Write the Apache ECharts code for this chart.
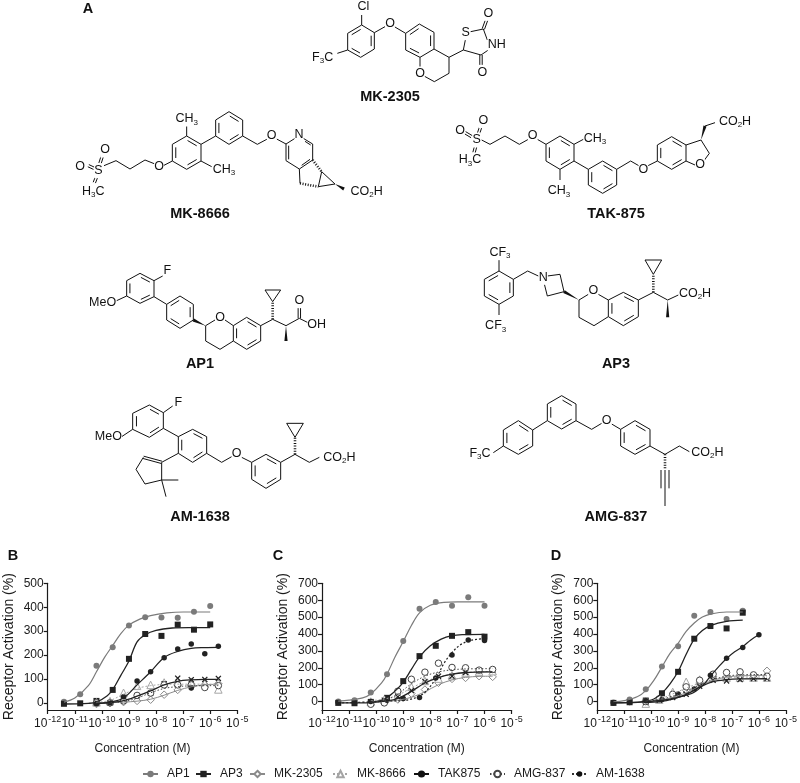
<!DOCTYPE html>
<html>
<head>
<meta charset="utf-8">
<style>html,body{margin:0;padding:0;background:#fff}#c{width:800px;height:783px}</style>
<script src="https://cdn.jsdelivr.net/npm/echarts@6/dist/echarts.min.js"></script>
</head>
<body>
<div id="c"></div>
<script>
// ---------- doses (log10 M) ----------
const DOSE_4 = [-11.4,-10.8,-10.2,-9.6,-9,-8.4,-7.8,-7.2,-6.6,-6];
const DOSE_H = [-10.2,-9.7,-9.2,-8.7,-8.2,-7.7,-7.2,-6.7,-6.2,-5.7];
const X_TICKS = [-12,-11,-10,-9,-8,-7,-6,-5];
const B_Y_TICKS = [0,100,200,300,400,500];
const CD_Y_TICKS = [0,100,200,300,400,500,600,700];
const COMPOUNDS = ['AP1','AP3','MK-2305','MK-8666','TAK875','AMG-837','AM-1638'];

// ---------- panel B ----------
const B_AP1 = [5,36,155,232,323,358,357,356,381,405];
const B_AP1_fit = [[-11.4,3],[-11,20],[-10.5,72],[-10.2,130],[-9.9,190],[-9.6,240],[-9.3,290],[-9,325],[-8.6,350],[-8.2,365],[-7.6,376],[-7,380],[-6,380]];
const B_AP3 = [-4,-2,8,54,184,288,280,327,306,328];
const B_AP3_fit = [[-11.4,-5],[-10.5,-2],[-10.2,3],[-9.8,30],[-9.6,55],[-9.3,115],[-9,175],[-8.7,255],[-8.4,285],[-8,303],[-7.4,313],[-6.8,315],[-6,315]];
const B_MK2305 = [-5,-1,3,8,13,34,54,68,76,80];
const B_MK2305_fit = [[-10.2,-1],[-9.2,3],[-8.7,7],[-8.2,15],[-7.7,32],[-7.2,52],[-6.7,67],[-6.2,75],[-5.7,78]];
const B_MK8666 = [2,7,42,71,75,85,88,88,81,56];
const B_MK8666_fit = [[-10.2,2],[-9.7,10],[-9.2,36],[-8.7,60],[-8.2,72],[-7.7,77],[-7.2,78],[-5.7,78]];
const B_TAK = [-2,0,12,30,40,80,103,97,98,102];
const B_TAK_fit = [[-10.2,-2],[-9.7,1],[-9.2,9],[-8.7,28],[-8.2,50],[-7.7,75],[-7.2,90],[-6.7,96],[-6.2,98],[-5.7,98]];
const B_AMG = [0,0,8,31,41,75,75,75,64,72];
const B_AMG_fit = [[-10.2,-1],[-9.7,1],[-9.2,5],[-8.7,20],[-8.2,42],[-7.7,60],[-7.2,68],[-6.7,71],[-5.7,72]];
const B_AM = [-3,0,25,91,130,189,225,246,205,237];
const B_AM_fit = [[-10.2,-3],[-9.7,3],[-9.2,20],[-8.7,75],[-8.2,130],[-7.7,190],[-7.2,215],[-6.7,228],[-6.2,231],[-5.7,232]];
const B_AM_extra = [[-6.7,62]];

// ---------- panel C ----------
const C_AP1 = [0,8,53,162,358,550,589,567,617,567];
const C_AP1_fit = [[-11.4,3],[-11,8],[-10.5,22],[-10.2,45],[-9.8,110],[-9.6,162],[-9.3,265],[-9,355],[-8.7,450],[-8.4,525],[-8,570],[-7.5,587],[-7,590],[-6,590]];
const C_AP3 = [-8,-10,-2,22,121,269,330,389,411,384];
const C_AP3_fit = [[-11.4,-8],[-10.5,-8],[-10.2,-5],[-9.8,8],[-9.5,35],[-9.2,78],[-9,115],[-8.7,190],[-8.4,265],[-8,330],[-7.6,370],[-7.2,390],[-6.8,396],[-6,398]];
const C_MK2305 = [-3,0,12,47,71,111,134,140,150,146];
const C_MK2305_fit = [[-10.2,-3],[-9.7,0],[-9.2,8],[-8.7,25],[-8.2,58],[-7.7,100],[-7.2,128],[-6.7,143],[-6.2,149],[-5.7,150]];
const C_MK8666 = [0,12,43,87,122,136,156,172,178,180];
const C_MK8666_fit = [[-10.2,5],[-9.7,15],[-9.2,38],[-8.7,80],[-8.2,118],[-7.7,145],[-7.2,162],[-6.7,172],[-6.2,177],[-5.7,178]];
const C_TAK = [-4,8,28,65,118,150,150,172,182,186];
const C_TAK_fit = [[-10.2,-6],[-9.7,2],[-9.2,18],[-8.7,60],[-8.2,110],[-7.7,142],[-7.2,162],[-6.7,172],[-6.2,175],[-5.7,176]];
const C_AMG = [-16,-8,61,132,174,227,202,200,186,190];
const C_AMG_fit = [[-10.2,-5],[-9.7,5],[-9.2,45],[-8.7,105],[-8.2,150],[-7.7,175],[-7.2,188],[-6.7,193],[-5.7,195]];
const C_AM = [-5,-10,0,8,18,24,140,275,364,362];
const C_AM_fit = [[-11.4,-8],[-10.2,-2],[-9.6,3],[-9,6],[-8.5,25],[-8.2,55],[-7.8,135],[-7.5,225],[-7.2,290],[-6.9,335],[-6.6,358],[-6.3,368],[-6,372]];

// ---------- panel D ----------
const D_AP1 = [-6,12,73,208,328,508,530,488,538];
const D_AP1_fit = [[-11.4,-2],[-11,5],[-10.5,30],[-10.2,65],[-9.9,125],[-9.6,205],[-9.3,285],[-9,345],[-8.7,415],[-8.4,465],[-8.1,500],[-7.8,518],[-7.2,530],[-6.6,530]];
const D_AP3 = [-8,-4,6,49,176,372,447,433,526];
const D_AP3_fit = [[-11.4,-8],[-10.5,-5],[-10.2,2],[-9.9,15],[-9.6,50],[-9.3,105],[-9,178],[-8.7,280],[-8.4,370],[-8.1,420],[-7.8,450],[-7.2,475],[-6.6,482]];
const D_MK2305 = [4,12,38,67,103,146,146,146,142,182];
const D_MK2305_fit = [[-10.2,0],[-9.7,8],[-9.2,25],[-8.7,52],[-8.2,90],[-7.7,125],[-7.2,145],[-6.7,152],[-5.7,155]];
const D_MK8666 = [-12,12,57,117,130,156,142,142,142,142];
const D_MK8666_fit = [[-10.2,0],[-9.7,15],[-9.2,45],[-8.7,80],[-8.2,108],[-7.7,128],[-7.2,140],[-6.7,145],[-5.7,145]];
const D_TAK = [-6,8,24,43,91,126,122,130,136,136];
const D_TAK_fit = [[-10.2,-6],[-9.7,0],[-9.2,15],[-8.7,42],[-8.2,85],[-7.7,118],[-7.2,130],[-6.7,134],[-5.7,135]];
const D_AMG = [0,16,43,87,126,162,172,176,158,150];
const D_AMG_fit = [[-10.2,2],[-9.7,12],[-9.2,32],[-8.7,62],[-8.2,98],[-7.7,130],[-7.2,150],[-6.7,158],[-5.7,160]];
const D_AM = [-7,-6,5,12,45,75,156,257,320,395];
const D_AM_fit = [[-11.4,-8],[-10.2,-2],[-9.6,8],[-9,25],[-8.4,55],[-8,110],[-7.8,150],[-7.5,205],[-7.2,255],[-6.9,295],[-6.6,325],[-6.3,365],[-6,395]];

// ---------- chemical structures (drawing units: 1/3 px from an origin) ----------
const MOL_MK2305 = {ox:400,oy:0,
 rings:[[[-157,100,-115,75,-77,98,-77,147,-118,172,-157,150],[0,2,4]],[[17,100,58,72,102,97,102,147,60,172,17,150],[0,2,4]]],
 bonds:[[-115,75,-115,45],[-77,98,-45,80],[-17,80,17,100],[-188,160,-157,150],[60,172,60,205],[72,228,103,245],[103,245,147,220],[147,220,147,172],[147,172,102,147],[147,172,190,150],[190,150,197,115],[212,95,250,87],[250,87,262,120],[265,150,243,165],[243,165,190,150]],
 dbl:[[250,87,262,54],[243,165,243,200]],
 text:[[-110,20,'Cl'],[-30,72,'O'],[-232,172,'F{s|3}C'],[60,222,'O'],[197,98,'S'],[290,135,'NH'],[265,40,'O'],[247,217,'O']]};
const MOL_MK8666 = {ox:50,oy:0,
 rings:[[[367,433,410,408,453,433,453,483,410,508,367,483],[1,3,5]],[[497,408,497,360,537,335,578,360,578,408,537,433],[0,2,4]]],
 bonds:[[410,408,410,378],[453,483,485,500],[367,483,340,497],[315,492,285,480],[285,480,240,507],[240,507,198,482],[198,482,162,497],[453,433,497,408],[578,408,622,433],[622,433,652,417],[680,417,708,432],[708,432,735,415],[760,415,788,432],[788,432,788,480],[788,480,748,507],[748,507,708,482],[708,482,708,432],[748,507,750,550],[815,515,805,560],[805,560,855,552],[855,552,815,515]],
 inner:[[716,437,716,478],[755,496,780,478],[765,424,782,435]],
 dbl:[[115,497,132,505],[150,490,158,465],[140,530,133,548]],
 hash:[[750,550,805,560],[788,480,815,515]],
 wedge:[[855,552,882,567]],
 text:[[410,357,'CH{s|3}'],[522,508,'CH{s|3}'],[327,500,'O'],[145,512,'S'],[90,500,'O'],[165,450,'O'],[130,575,'H{s|3}C'],[665,408,'O'],[747,403,'N'],[950,575,'CO{s|2}H']]};
const MOL_TAK875 = {ox:400,oy:0,
 rings:[[[438,433,480,408,522,433,522,483,480,508,438,483],[1,3,5]],[[565,508,608,483,650,508,650,555,608,580,565,555],[1,3,5]],[[772,483,772,435,815,410,858,435,858,483,815,508],[0,2,4]]],
 bonds:[[245,420,270,433],[270,433,315,408],[315,408,358,433],[358,433,385,418],[412,418,438,433],[522,433,550,418],[480,508,480,540],[522,483,565,508],[650,508,692,483],[692,483,718,498],[742,498,772,483],[858,435,903,420],[903,420,928,460],[928,460,912,482],[885,495,858,483],[915,378,945,368]],
 dbl:[[195,398,215,410],[235,402,243,378],[228,435,222,458]],
 wedge:[[903,420,915,378]],
 text:[[180,393,'O'],[230,420,'S'],[250,362,'O'],[210,480,'H{s|3}C'],[398,408,'O'],[585,415,'CH{s|3}'],[477,573,'CH{s|3}'],[730,508,'O'],[900,495,'O'],[1005,365,'CO{s|2}H']]};
const MOL_AP1 = {ox:50,oy:260,
 rings:[[[230,62,270,40,312,62,312,110,270,130,230,108],[1,3,5]],[[350,133,390,108,430,133,430,180,390,205,350,180],[0,2,4]],[[550,197,590,172,632,197,632,243,590,268,550,243],[1,3,5]]],
 bonds:[[312,62,338,48],[200,122,230,108],[312,110,350,133],[467,197,495,180],[525,180,550,197],[550,243,510,268],[510,268,467,243],[467,243,467,197],[632,197,668,178],[645,90,692,90],[692,90,668,125],[668,125,645,90],[668,178,708,197],[708,197,748,175],[748,175,778,190]],
 dbl:[[748,175,748,135]],
 hash:[[668,178,668,125]],
 wedge:[[467,197,430,180],[708,197,708,243]],
 text:[[352,32,'F'],[158,127,'MeO'],[510,172,'O'],[748,122,'O'],[800,193,'OH']]};
const MOL_AM1638 = {ox:50,oy:260,
 rings:[[[248,460,298,435,340,458,340,505,298,532,248,508],[1,3,5]],[[385,530,428,508,470,530,470,580,428,607,385,580],[1,3,5]],[[605,607,648,583,692,607,692,658,648,685,605,658],[1,3,5]]],
 bonds:[[340,458,368,438],[215,530,248,508],[340,505,385,530],[470,580,515,607],[515,607,545,590],[575,592,605,607],[692,607,735,583],[710,490,760,490],[760,490,735,532],[735,532,710,490],[735,583,778,607],[778,607,808,592],[385,580,335,607],[280,592,258,628],[258,628,285,672],[285,672,335,660],[335,660,335,607],[335,660,385,660],[335,660,348,710]],
 dbl:[[335,607,280,592]],
 hash:[[735,583,735,532]],
 text:[[385,427,'F'],[175,530,'MeO'],[560,580,'O'],[868,592,'CO{s|2}H']]};
const MOL_AP3 = {ox:400,oy:260,
 rings:[[[297,33,340,58,340,108,297,133,253,108,253,58],[1,3,5]],[[625,120,670,97,715,120,715,170,670,197,625,170],[1,3,5]]],
 bonds:[[297,33,297,0],[297,133,297,165],[340,58,383,33],[383,33,415,48],[442,48,480,43],[480,43,492,95],[492,95,442,108],[442,108,432,68],[537,120,565,103],[595,103,625,120],[625,170,582,197],[582,197,537,172],[537,172,537,120],[715,120,760,97],[735,0,785,0],[785,0,760,43],[760,43,735,0],[760,97,803,120],[803,120,835,105]],
 hash:[[760,97,760,43]],
 wedge:[[537,120,492,95],[803,120,803,172]],
 text:[[300,-22,'CF{s|3}'],[287,198,'CF{s|3}'],[430,52,'N'],[580,92,'O'],[885,100,'CO{s|2}H']]};
const MOL_AMG837 = {ox:400,oy:260,
 rings:[[[310,510,355,482,398,510,398,558,355,583,310,558],[1,3,5]],[[442,482,442,432,485,407,528,432,528,482,485,507],[0,2,4]],[[662,508,705,482,750,508,750,558,705,583,662,558],[1,3,5]]],
 bonds:[[280,578,310,558],[398,510,442,482],[528,482,575,508],[575,508,605,490],[635,492,662,508],[750,558,795,583],[795,583,838,558],[838,558,868,575],[795,630,795,738],[783,630,783,685],[807,630,807,685]],
 hash:[[795,583,795,630]],
 text:[[240,580,'F{s|3}C'],[620,482,'O'],[922,577,'CO{s|2}H']]};
const MOLECULES = [MOL_MK2305,MOL_MK8666,MOL_TAK875,MOL_AP1,MOL_AM1638,MOL_AP3,MOL_AMG837];
const MOL_NAMES = [['MK-2305',390,97],['MK-8666',200,214],['TAK-875',616,214],['AP1',200,364],['AP3',616,364],['AM-1638',200,517],['AMG-837',616,517]];
const PANEL_LETTERS = [['A',88,9],['B',13,556],['C',278,556],['D',556,556]];

// ---------- styles ----------
const FONT = '"Liberation Sans", Arial, sans-serif';
const INK = '#1a1a1a';
const X_PATH = 'path://M0 3L3 0L10 7L17 0L20 3L13 10L20 17L17 20L10 13L3 20L0 17L7 10Z';
const STYLE = {
 'AP1':{symbol:'circle',size:6,fill:'#7b7b7b',stroke:'#7b7b7b',line:'#7b7b7b',dash:'solid',lw:1.2},
 'AP3':{symbol:'rect',size:6,fill:'#222',stroke:'#222',line:'#222',dash:'solid',lw:1.3},
 'MK-2305':{symbol:'diamond',size:7.5,fill:'#fff',stroke:'#8a8a8a',line:'#8a8a8a',dash:'solid',lw:1},
 'MK-8666':{symbol:'triangle',size:7.5,fill:'#fff',stroke:'#a5a5a5',line:'#a5a5a5',dash:[2,2],lw:1},
 'TAK875':{symbol:X_PATH,size:6,fill:'#222',stroke:'#222',line:'#222',dash:'solid',lw:1.3},
 'AMG-837':{symbol:'circle',size:6.5,fill:'#fff',stroke:'#444',line:'#444',dash:[1.5,2],lw:1},
 'AM-1638':{symbol:'circle',size:5.5,fill:'#222',stroke:'#222',line:'#222',dash:'solid',lw:1.2}
};
const LEGEND_STYLE = {
 'TAK875':{symbol:'circle',fill:'#111',stroke:'#111',line:'#111',dash:'solid',lw:1.5,h:9},
 'AM-1638':{symbol:'circle',fill:'#111',stroke:'#111',line:'#333',dash:[2,2],lw:1,h:7}
};
const LEGEND_LEFT = [142,195,249,332,413,489,571];

const PANELS = [
 {x:47.7,ymin:-30,ymax:500,yticks:B_Y_TICKS,series:{
  'AP1':[DOSE_4,B_AP1,B_AP1_fit],'AP3':[DOSE_4,B_AP3,B_AP3_fit],'MK-2305':[DOSE_H,B_MK2305,B_MK2305_fit],'MK-8666':[DOSE_H,B_MK8666,B_MK8666_fit],'TAK875':[DOSE_H,B_TAK,B_TAK_fit],'AMG-837':[DOSE_H,B_AMG,B_AMG_fit],'AM-1638':[DOSE_H,B_AM,B_AM_fit]}},
 {x:322,ymin:-50,ymax:700,yticks:CD_Y_TICKS,amDash:[2,2],series:{
  'AP1':[DOSE_4,C_AP1,C_AP1_fit],'AP3':[DOSE_4,C_AP3,C_AP3_fit],'MK-2305':[DOSE_H,C_MK2305,C_MK2305_fit],'MK-8666':[DOSE_H,C_MK8666,C_MK8666_fit],'TAK875':[DOSE_H,C_TAK,C_TAK_fit],'AMG-837':[DOSE_H,C_AMG,C_AMG_fit],'AM-1638':[DOSE_4,C_AM,C_AM_fit]}},
 {x:597.3,ymin:-50,ymax:700,yticks:CD_Y_TICKS,series:{
  'AP1':[DOSE_4,D_AP1,D_AP1_fit],'AP3':[DOSE_4,D_AP3,D_AP3_fit],'MK-2305':[DOSE_H,D_MK2305,D_MK2305_fit],'MK-8666':[DOSE_H,D_MK8666,D_MK8666_fit],'TAK875':[DOSE_H,D_TAK,D_TAK_fit],'AMG-837':[DOSE_H,D_AMG,D_AMG_fit],'AM-1638':[DOSE_4,D_AM,D_AM_fit]}}
];

const pow = e => Math.pow(10, e);
const grid=[], xAxis=[], yAxis=[], series=[];

// legend-only series come first so the legend reads its icons from them
COMPOUNDS.forEach(n=>{
  const s = Object.assign({}, STYLE[n], LEGEND_STYLE[n]||{});
  series.push({name:n,type:'line',xAxisIndex:0,yAxisIndex:0,data:[],symbol:s.symbol,
    itemStyle:{color:s.fill,borderColor:s.stroke,borderWidth:s.fill==='#fff'?1:0},
    lineStyle:{color:s.line,type:s.dash,width:s.lw}});
});

PANELS.forEach((p,i)=>{
  grid.push({left:p.x,top:583.3,width:189.6,height:126.7,containLabel:false});
  xAxis.push({gridIndex:i,type:'log',logBase:10,min:1e-12,max:1e-5,
    name:'Concentration (M)',nameLocation:'middle',nameGap:33,
    nameTextStyle:{fontFamily:FONT,fontSize:12,color:INK},
    axisLine:{onZero:false,lineStyle:{color:INK,width:1.2}},
    axisTick:{length:4,lineStyle:{color:INK,width:1.2}},
    minorTick:{show:false},splitLine:{show:false},minorSplitLine:{show:false},
    axisLabel:{margin:5,hideOverlap:false,showMinLabel:true,showMaxLabel:true,
      formatter:v=>'{b|10}{s|'+Math.round(Math.log10(v))+'}',
      rich:{b:{fontFamily:FONT,fontSize:12,color:INK,lineHeight:15,verticalAlign:'bottom'},
            s:{fontFamily:FONT,fontSize:9,color:INK,lineHeight:15,verticalAlign:'top',padding:[0,0,0,1]}}}});
  yAxis.push({gridIndex:i,type:'value',min:p.ymin,max:p.ymax,
    name:'Receptor Activation (%)',nameLocation:'middle',nameGap:32,
    nameTextStyle:{fontFamily:FONT,fontSize:14,color:INK},
    axisLine:{show:true,onZero:false,lineStyle:{color:INK,width:1.2}},
    axisTick:{show:true,length:4,customValues:p.yticks,lineStyle:{color:INK,width:1.2}},
    splitLine:{show:false},
    axisLabel:{margin:4,customValues:p.yticks,fontFamily:FONT,fontSize:12,color:INK}});
  COMPOUNDS.forEach(n=>{
    const st = STYLE[n], d = p.series[n];
    const dash = (n==='AM-1638' && p.amDash) ? p.amDash : st.dash;
    series.push({name:n,type:'line',xAxisIndex:i,yAxisIndex:i,smooth:0.35,showSymbol:false,symbol:'none',silent:true,clip:false,
      lineStyle:{color:st.line,type:dash,width:st.lw},
      data:d[2].map(q=>[pow(q[0]),q[1]])});
    const pts = d[1].map((v,k)=>[pow(d[0][k]),v]);
    if(i===0 && n==='AM-1638') B_AM_extra.forEach(q=>pts.push([pow(q[0]),q[1]]));
    series.push({name:n,type:'scatter',xAxisIndex:i,yAxisIndex:i,symbol:st.symbol,symbolSize:st.size,clip:false,
      itemStyle:{color:st.fill,borderColor:st.stroke,borderWidth:st.fill==='#fff'?1:0,opacity:1},
      data:pts});
  });
});

// ---------- structure drawing through graphic elements ----------
const graphic=[];
const STROKE={stroke:'#111',lineWidth:1,fill:null};
const RICH={s:{fontFamily:FONT,fontSize:8,fill:'#111',verticalAlign:'bottom',lineHeight:12,padding:[5,0,0,0]},
            t:{fontFamily:FONT,fontSize:12.5,fill:'#111',lineHeight:15}};
function tokens(t){ // wrap plain runs so they share the base style
  return t.split(/(\{s\|\d\})/).filter(Boolean).map(r=>r[0]==='{'?r:'{t|'+r+'}').join('');
}
function line(pts,style){graphic.push({type:'polyline',silent:true,shape:{points:pts},style:Object.assign({},STROKE,style||{})});}
MOLECULES.forEach(m=>{
  const X=v=>m.ox+v/3, Y=v=>m.oy+v/3;
  (m.rings||[]).forEach(r=>{
    const c=r[0], n=c.length/2, P=[];
    for(let k=0;k<n;k++)P.push([X(c[2*k]),Y(c[2*k+1])]);
    line(P.concat([P[0]]));
    const cx=P.reduce((a,q)=>a+q[0],0)/n, cy=P.reduce((a,q)=>a+q[1],0)/n;
    r[1].forEach(e=>{
      const a=P[e],b=P[(e+1)%n],f=0.76;
      const u=[cx+(a[0]-cx)*f,cy+(a[1]-cy)*f],v=[cx+(b[0]-cx)*f,cy+(b[1]-cy)*f];
      line([[u[0]+(v[0]-u[0])*0.08,u[1]+(v[1]-u[1])*0.08],[v[0]-(v[0]-u[0])*0.08,v[1]-(v[1]-u[1])*0.08]]);
    });
  });
  (m.bonds||[]).concat(m.inner||[]).forEach(b=>line([[X(b[0]),Y(b[1])],[X(b[2]),Y(b[3])]]));
  (m.dbl||[]).forEach(b=>{
    const x1=X(b[0]),y1=Y(b[1]),x2=X(b[2]),y2=Y(b[3]),L=Math.hypot(x2-x1,y2-y1),nx=-(y2-y1)/L*1.2,ny=(x2-x1)/L*1.2;
    line([[x1+nx,y1+ny],[x2+nx,y2+ny]]);line([[x1-nx,y1-ny],[x2-nx,y2-ny]]);
  });
  (m.hash||[]).forEach(b=>line([[X(b[0]),Y(b[1])],[X(b[2]),Y(b[3])]],{lineWidth:2.6,lineDash:[1,1.6]}));
  (m.wedge||[]).forEach(b=>{
    const x1=X(b[0]),y1=Y(b[1]),x2=X(b[2]),y2=Y(b[3]),L=Math.hypot(x2-x1,y2-y1),nx=-(y2-y1)/L*1.6,ny=(x2-x1)/L*1.6;
    graphic.push({type:'polygon',silent:true,shape:{points:[[x1,y1],[x2+nx,y2+ny],[x2-nx,y2-ny]]},style:{fill:'#111'}});
  });
  (m.text||[]).forEach(t=>graphic.push({type:'text',silent:true,x:X(t[0]),y:Y(t[1]),
    style:{text:tokens(t[2]),align:'center',verticalAlign:'middle',fontFamily:FONT,fontSize:12.5,fill:'#111',rich:RICH,backgroundColor:'#fff'}}));
});
MOL_NAMES.forEach(t=>graphic.push({type:'text',silent:true,x:t[1],y:t[2],
  style:{text:t[0],align:'center',verticalAlign:'middle',fontFamily:FONT,fontWeight:'bold',fontSize:14.5,fill:'#111'}}));
PANEL_LETTERS.forEach(t=>graphic.push({type:'text',silent:true,x:t[1],y:t[2],
  style:{text:t[0],align:'center',verticalAlign:'middle',fontFamily:FONT,fontWeight:'bold',fontSize:14.5,fill:'#111'}}));

const legend = COMPOUNDS.map((n,i)=>({
  data:[n],left:LEGEND_LEFT[i],top:768,padding:0,selectedMode:false,
  itemWidth:15,itemHeight:(LEGEND_STYLE[n]&&LEGEND_STYLE[n].h)||8,
  textStyle:{fontFamily:FONT,fontSize:12,color:INK,padding:[0,0,0,4]}
}));

const chart = echarts.init(document.getElementById('c'),null,{renderer:'canvas'});
chart.setOption({animation:false,backgroundColor:'#fff',tooltip:{show:false},legend,grid,xAxis,yAxis,series,graphic:{elements:graphic}});
</script>
</body>
</html>
